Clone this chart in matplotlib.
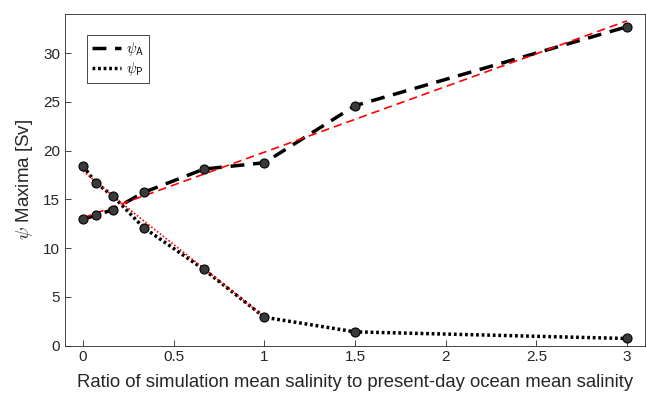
import matplotlib
matplotlib.use("Agg")
import matplotlib.pyplot as plt

plt.rcParams["font.family"] = ["Liberation Sans", "DejaVu Sans"]
plt.rcParams["mathtext.fontset"] = "cm"

# salinity ratio
ratio = [0, 0.07, 1/6, 1/3, 2/3, 1, 1.5, 3]
psi_a = [12.95, 13.35, 13.95, 15.7, 18.1, 18.75, 24.6, 32.7]
psi_p = [18.4, 16.7, 15.3, 12.1, 7.8, 2.9, 1.4, 0.72]

# red fit lines
fit_a_x = [0, 3]
fit_a_y = [13.1, 33.3]
fit_p_x = [0, 1/6, 1/3, 2/3, 1]
fit_p_y = [17.9, 15.3, 12.8, 7.9, 2.9]

axc = (0.15, 0.15, 0.15)

fig = plt.figure(figsize=(6.46, 3.96), dpi=100)
ax = fig.add_axes([0.1006, 0.1275, 0.898, 0.837])

ax.plot(fit_a_x, fit_a_y, color="red", lw=1.2, ls=(0, (5, 3)), zorder=3)
ax.plot(fit_p_x, fit_p_y, color="red", lw=1.2, ls=(0, (1, 1.2)), zorder=3)

ax.plot(ratio, psi_a, color="black", lw=2.5, ls=(0, (4, 2.5)), zorder=2,
        label=r"$\psi_\mathsf{A}$")
ax.plot(ratio, psi_p, color="black", lw=2.5, ls=(0, (0.8, 0.8)), zorder=2,
        label=r"$\psi_\mathsf{P}$")
ax.plot(ratio, psi_a, "o", ms=6.5, mfc="#3a3a3a", mec="black", mew=0.8, zorder=4)
ax.plot(ratio, psi_p, "o", ms=6.5, mfc="#3a3a3a", mec="black", mew=0.8, zorder=4)

ax.set_xlim(-0.1, 3.1)
ax.set_ylim(0, 34)
ax.set_xticks([0, 0.5, 1, 1.5, 2, 2.5, 3])
ax.set_xticklabels(["0", "0.5", "1", "1.5", "2", "2.5", "3"])
ax.set_yticks([0, 5, 10, 15, 20, 25, 30])
ax.tick_params(direction="in", length=4, width=0.6, colors=axc, labelsize=11,
               top=False, right=False)
for s in ax.spines.values():
    s.set_color(axc)
    s.set_linewidth(0.6)

ax.set_xlabel("Ratio of simulation mean salinity to present-day ocean mean salinity",
              fontsize=13.3, color=axc, labelpad=7)
ax.set_ylabel(r"$\psi$ Maxima [Sv]", fontsize=13.5, color=axc, labelpad=6)

leg = ax.legend(loc="upper left", bbox_to_anchor=(0.038, 0.937), borderaxespad=0,
                fontsize=10.5, handlelength=2.0, handletextpad=0.3, borderpad=0.35,
                labelspacing=0.15, fancybox=False, framealpha=1)
leg.get_frame().set_edgecolor(axc)
leg.get_frame().set_linewidth(0.6)

fig.savefig("out.png", dpi=100)
